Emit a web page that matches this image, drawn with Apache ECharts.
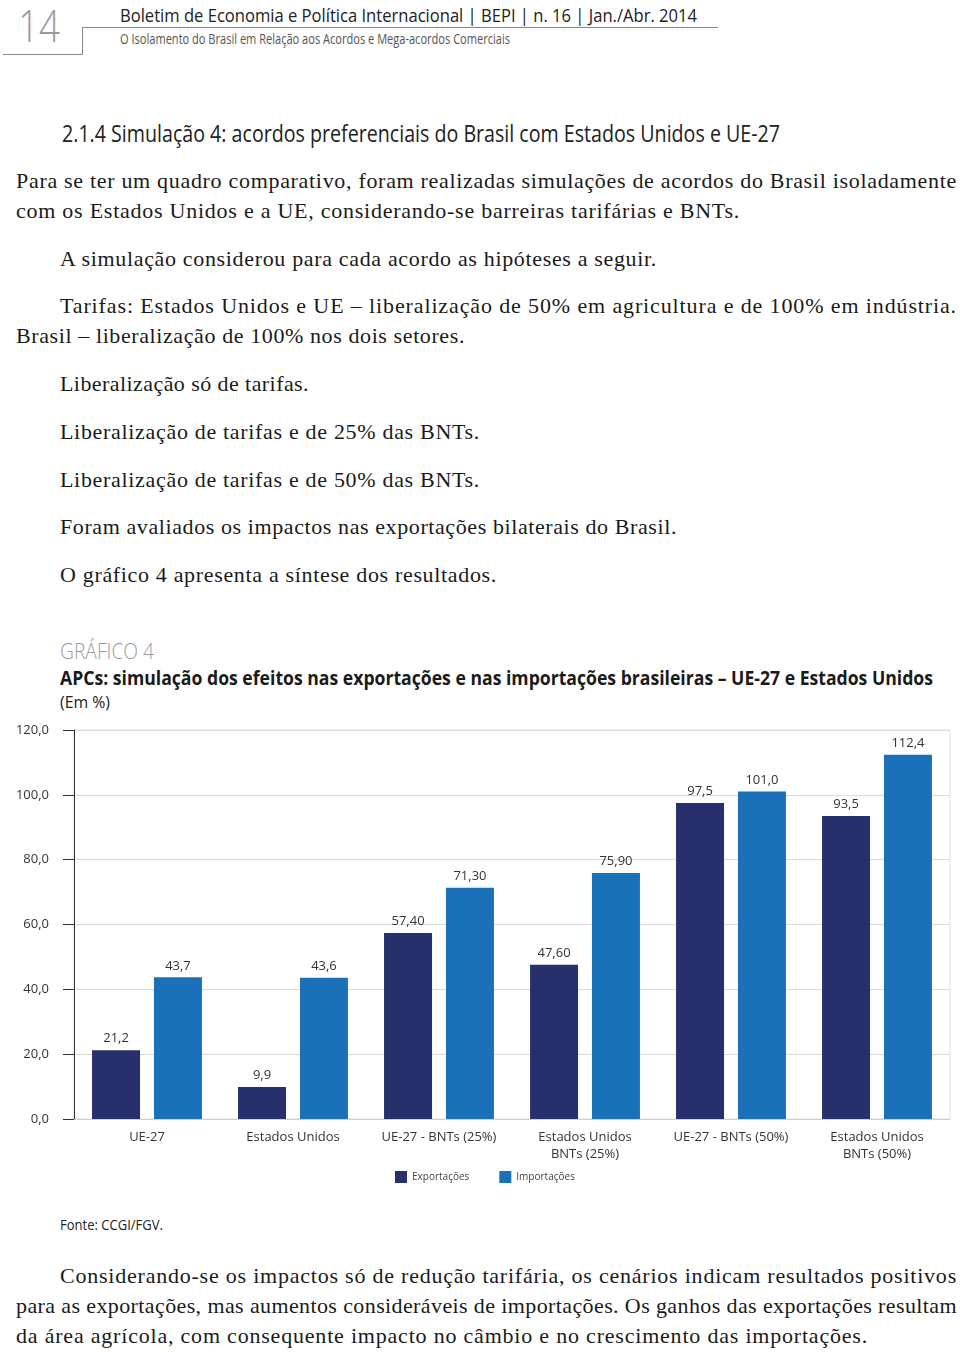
<!DOCTYPE html>
<html><head><meta charset="utf-8">
<script src="https://cdn.jsdelivr.net/npm/echarts@6/dist/echarts.min.js"></script>
<style>
html,body{margin:0;padding:0;background:#fff;}
#page{position:relative;width:960px;height:1352px;overflow:hidden;background:#fff;}
.t{position:absolute;white-space:nowrap;line-height:1;transform-origin:0 50%;}
.serif{font-family:"Liberation Serif","DejaVu Serif",serif;font-size:22px;color:#1a1a1a;}
.sans{font-family:"Liberation Sans Narrow","Open Sans","DejaVu Sans Condensed",sans-serif;}
.ln{position:absolute;background:#888;}
#chart{position:absolute;left:0;top:700px;width:960px;height:500px;}
</style></head>
<body><div id="page">
<div class="t sans" style="left:18px;top:3px;font-size:44px;color:#9a9a9a;font-weight:300;" data-w="42">14</div>
<div class="ln" style="left:82px;top:27px;width:636px;height:1px;"></div>
<div class="ln" style="left:82px;top:27px;width:1px;height:27px;"></div>
<div class="ln" style="left:3px;top:54px;width:80px;height:1px;"></div>
<div class="t sans" style="left:120px;top:6px;font-size:18px;color:#222;" data-w="577">Boletim de Economia e Política Internacional | BEPI | n. 16 | Jan./Abr. 2014</div>
<div class="t sans" style="left:120px;top:32px;font-size:14px;color:#555;" data-w="390">O Isolamento do Brasil em Relação aos Acordos e Mega-acordos Comerciais</div>

<div class="t sans" style="left:62px;top:121px;font-size:24px;color:#222;" data-w="718">2.1.4 Simulação 4: acordos preferenciais do Brasil com Estados Unidos e UE-27</div>

<div class="t serif" style="left:16px;top:170px;" data-w="941">Para se ter um quadro comparativo, foram realizadas simulações de acordos do Brasil isoladamente</div>
<div class="t serif" style="left:16px;top:200px;" data-w="724">com os Estados Unidos e a UE, considerando-se barreiras tarifárias e BNTs.</div>
<div class="t serif" style="left:60px;top:248px;" data-w="597">A simulação considerou para cada acordo as hipóteses a seguir.</div>
<div class="t serif" style="left:60px;top:295px;" data-w="897">Tarifas: Estados Unidos e UE – liberalização de 50% em agricultura e de 100% em indústria.</div>
<div class="t serif" style="left:16px;top:325px;" data-w="449">Brasil – liberalização de 100% nos dois setores.</div>
<div class="t serif" style="left:60px;top:373px;" data-w="249">Liberalização só de tarifas.</div>
<div class="t serif" style="left:60px;top:421px;" data-w="420">Liberalização de tarifas e de 25% das BNTs.</div>
<div class="t serif" style="left:60px;top:469px;" data-w="420">Liberalização de tarifas e de 50% das BNTs.</div>
<div class="t serif" style="left:60px;top:516px;" data-w="617">Foram avaliados os impactos nas exportações bilaterais do Brasil.</div>
<div class="t serif" style="left:60px;top:564px;" data-w="437">O gráfico 4 apresenta a síntese dos resultados.</div>

<div class="t sans" style="left:60px;top:639px;font-size:22px;color:#999;font-weight:300;" data-w="94">GRÁFICO 4</div>
<div class="t sans" style="left:60px;top:668px;font-size:20px;color:#1a1a1a;font-weight:bold;" data-w="873">APCs: simulação dos efeitos nas exportações e nas importações brasileiras – UE-27 e Estados Unidos</div>
<div class="t sans" style="left:60px;top:693px;font-size:17px;color:#222;" data-w="50">(Em %)</div>

<div id="chart"></div>

<div class="t sans" style="left:60px;top:1217px;font-size:15px;color:#222;" data-w="103">Fonte: CCGI/FGV.</div>

<div class="t serif" style="left:60px;top:1265px;" data-w="897">Considerando-se os impactos só de redução tarifária, os cenários indicam resultados positivos</div>
<div class="t serif" style="left:16px;top:1295px;" data-w="941">para as exportações, mas aumentos consideráveis de importações. Os ganhos das exportações resultam</div>
<div class="t serif" style="left:16px;top:1325px;" data-w="852">da área agrícola, com consequente impacto no câmbio e no crescimento das importações.</div>
</div>
<script>
// fit text lines to measured widths
document.querySelectorAll('.t[data-w]').forEach(function(el){
  var target = parseFloat(el.getAttribute('data-w'));
  var w = el.getBoundingClientRect().width;
  if (el.classList.contains('serif')) {
    var n = el.textContent.length;
    if (n > 1) el.style.letterSpacing = ((target - w) / n) + 'px';
  } else if (w > 0) {
    el.style.transform = 'scaleX(' + (target / w) + ')';
  }
});

var categories = ['UE-27', 'Estados Unidos', 'UE-27 - BNTs (25%)', 'Estados Unidos\nBNTs (25%)', 'UE-27 - BNTs (50%)', 'Estados Unidos\nBNTs (50%)'];
var exportValues = [21.2, 9.9, 57.4, 47.6, 97.5, 93.5];
var importValues = [43.7, 43.6, 71.3, 75.9, 101.0, 112.4];
var exportLabels = ['21,2', '9,9', '57,40', '47,60', '97,5', '93,5'];
var importLabels = ['43,7', '43,6', '71,30', '75,90', '101,0', '112,4'];
var yTickLabels = ['0,0', '20,0', '40,0', '60,0', '80,0', '100,0', '120,0'];

var FONT = '"Liberation Sans Narrow","Open Sans","DejaVu Sans Condensed",sans-serif';
var chart = echarts.init(document.getElementById('chart'), null, {renderer: 'canvas'});
chart.setOption({
  animation: false,
  textStyle: {fontFamily: FONT},
  grid: {left: 74, top: 30, width: 876, height: 389, show: true, borderColor: '#dedede', borderWidth: 1},
  legend: {
    left: 390, top: 466, itemWidth: 12, itemHeight: 12, itemGap: 30, icon: 'rect',
    textStyle: {fontSize: 10, color: '#444', fontFamily: FONT},
    data: ['Exportações', 'Importações']
  },
  xAxis: {
    type: 'category', data: categories,
    axisLine: {lineStyle: {color: '#cfcfcf'}},
    axisTick: {show: false},
    axisLabel: {margin: 10, fontSize: 13, color: '#333', lineHeight: 17, fontFamily: FONT, interval: 0}
  },
  yAxis: {
    type: 'value', min: 0, max: 120, interval: 20,
    axisLine: {show: true, lineStyle: {color: '#333'}},
    axisTick: {show: true, length: 11, lineStyle: {color: '#333'}},
    splitLine: {lineStyle: {color: '#dcdcdc'}},
    axisLabel: {margin: 25, fontSize: 13, color: '#333', fontFamily: FONT,
      formatter: function(v){ return yTickLabels[Math.round(v / 20)]; }}
  },
  series: [
    {name: 'Exportações', type: 'bar', data: exportValues, barWidth: 48, barGap: '29%',
     itemStyle: {color: '#28306c'},
     label: {show: true, position: 'top', distance: 5, fontSize: 13, color: '#333', fontFamily: FONT,
       formatter: function(p){ return exportLabels[p.dataIndex]; }}},
    {name: 'Importações', type: 'bar', data: importValues, barWidth: 48,
     itemStyle: {color: '#1a71b8'},
     label: {show: true, position: 'top', distance: 5, fontSize: 13, color: '#333', fontFamily: FONT,
       formatter: function(p){ return importLabels[p.dataIndex]; }}}
  ]
});
</script>
</body></html>
